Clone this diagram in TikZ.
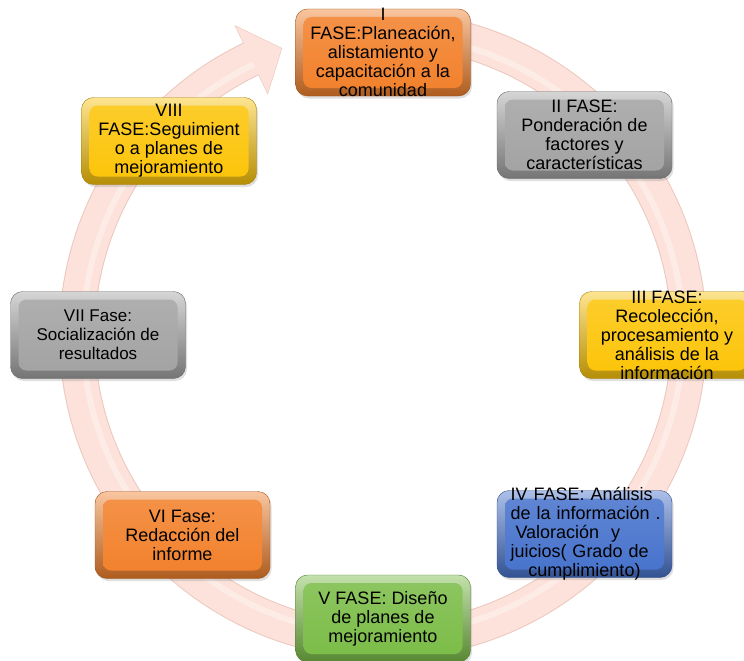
\documentclass[tikz,border=0pt]{standalone}
\usepackage{fontspec}
\setmainfont{Liberation Sans}
\usetikzlibrary{shadows}
\definecolor{ringfill}{RGB}{252,226,218}
\definecolor{ringedge}{RGB}{236,200,190}
\definecolor{orangeF}{RGB}{242,128,42}
\definecolor{grayF}{RGB}{162,162,162}
\definecolor{yellowF}{RGB}{252,196,8}
\definecolor{blueF}{RGB}{70,114,204}
\definecolor{greenF}{RGB}{122,188,70}
\tikzset{
  phase/.style={rounded corners=12pt, minimum width=175pt, minimum height=87pt, inner sep=0pt,
    top color=#1!45!white, middle color=#1, bottom color=#1!72!black,
    draw=#1!65!black, line width=0.4pt,
    drop shadow={opacity=0.25, shadow xshift=1.5pt, shadow yshift=-2.5pt},
    path picture={
      \shade[rounded corners=8pt, top color=#1!85!white, bottom color=#1]
        ([xshift=8pt,yshift=-8pt]path picture bounding box.north west)
        rectangle ([xshift=-8pt,yshift=8pt]path picture bounding box.south east);
    }},
  phasetext/.style={align=center, inner sep=0pt, text=black,
    font=\fontsize{18}{19}\selectfont}
}
\begin{document}
\begin{tikzpicture}[x=1pt,y=-1pt]
\useasboundingbox (0,0) rectangle (744,661);
\clip (0,0) rectangle (744,661);
\coordinate (c) at (383,335);
% ring arrow
\draw[line width=36pt, ringedge] ([shift={(-95:306)}]c) arc[start angle=-95, end angle=244.5, radius=306];
\draw[ringedge, line width=1.2pt, line join=miter]
  ([shift={(244.5:268)}]c) -- ([shift={(250.5:304)}]c) -- ([shift={(244.5:342)}]c) -- cycle;
\draw[line width=34pt, ringfill] ([shift={(-95:306)}]c) arc[start angle=-95, end angle=244.8, radius=306];
\fill[ringfill]
  ([shift={(244.5:268)}]c) -- ([shift={(250.5:304)}]c) -- ([shift={(244.5:342)}]c) -- cycle;
\draw[line width=6pt, white, opacity=0.35] ([shift={(-95:300)}]c) arc[start angle=-95, end angle=244.5, radius=300];
% boxes
\node[phase=orangeF] (b1) at (383,52.5) {};
\node[phase=grayF]   (b2) at (584.5,135) {};
\node[phase=yellowF] (b3) at (667,335) {};
\node[phase=blueF]   (b4) at (584.5,534) {};
\node[phase=greenF]  (b5) at (383,618.5) {};
\node[phase=orangeF] (b6) at (182.5,535) {};
\node[phase=grayF]   (b7) at (98,335) {};
\node[phase=yellowF] (b8) at (169,141) {};
% texts
\node[phasetext] (t1) at (b1) {I\\FASE:Planeación,\\alistamiento y\\capacitación a la\\comunidad};
\node[phasetext] (t2) at (b2) {II FASE:\\Ponderación de\\factores y\\características};
\node[phasetext] (t3) at (b3) {III FASE:\\Recolección,\\procesamiento y\\análisis de la\\información};
\node[phasetext, text width=148pt] (t4) at (b4) {\makebox[\linewidth][s]{IV FASE: Análisis}\\\makebox[\linewidth][s]{de la información .}\\\makebox[\linewidth][s]{\hspace{5pt}Valoración\ \ y\hspace{5pt}}\\\makebox[\linewidth][s]{juicios( Grado de}\\cumplimiento)};
\node[phasetext] (t5) at (b5) {V FASE: Diseño\\de planes de\\mejoramiento};
\node[phasetext] (t6) at (b6) {VI Fase:\\Redacción del\\informe};
\node[phasetext, font=\fontsize{17}{19}\selectfont] (t7) at (b7) {VII Fase:\\Socialización de\\resultados};
\node[phasetext] (t8) at (b8) {VIII\\FASE:Seguimient\\o a planes de\\mejoramiento};
\end{tikzpicture}
\end{document}
